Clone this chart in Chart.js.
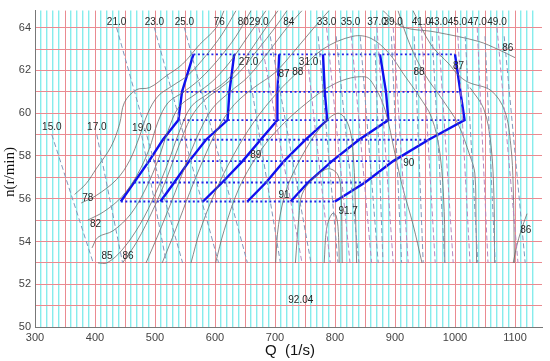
<!DOCTYPE html>
<html>
<head>
<meta charset="utf-8">
<script src="https://cdn.jsdelivr.net/npm/chart.js@4.4.0/dist/chart.umd.min.js"></script>
<style>
html, body { margin: 0; padding: 0; background: #fff; }
</style>
</head>
<body>
<canvas id="hillChart" width="550" height="361"></canvas>
<script>
// operating points: speed levels n (r/min) and flow Q (l/s) of each blue line
var levels = [55.87, 56.76, 57.76, 58.76, 59.68, 61.0, 62.75];
var blue1 = [443, 465, 490, 513, 539, 545, 564];
var blue2 = [509, 532, 557, 585, 621, 624, 632];
var blue3 = [580, 612, 646, 676, 704, 704, 707];
var blue4 = [654, 685, 715, 751, 787, 783, 780];
var blue5 = [726, 755, 795, 840, 889, 885, 875];
var blue6 = [800, 850, 897, 956, 1016, 1009, 1000];

// blade angle lines (dashed): label, top point, bottom Q at n = 53
var floorN = 53;
var angleNames = ['15.0', '17.0', '19.0', '21.0', '23.0', '25.0', '27.0', '29.0', '31.0', '33.0', '35.0', '37.0', '39.0', '41.0', '43.0', '45.0', '47.0', '49.0'];
var angleTopQ = [328, 403, 478, 436, 499, 549, 656, 673, 756, 786, 826, 870, 897, 944, 972, 1004, 1037, 1070];
var angleTopN = [59.0, 59.0, 58.95, 64.0, 64.0, 64.0, 62.05, 64.0, 62.05, 64.0, 64.0, 64.0, 64.0, 64.0, 64.0, 64.0, 64.0, 64.0];
var angleBottomQ = [397, 446, 519, 546, 606, 654, 709, 745, 792, 825, 861, 897, 922, 967, 997, 1025, 1055, 1105];
// second dashed family running beside the labelled lines
var guideTopQ = [692, 772, 802, 842, 866, 894, 932, 962, 1017, 1050, 1082];
var guideTopN = 63.6;
var guideBottomQ = [760, 805, 840, 872, 880, 911, 947, 983, 1038, 1067, 1117];

// efficiency contours (Q, n)
var c76 = [[366,56.2],[385,56.7],[402,57.4],[427,58.45],[441,59.5],[449,60.5],[469,61.1],[491,61.2],[519,61.75],[546,62.3],[574,63.2],[602,64.0],[615,64.8]];
var c78 = [[377,55.8],[402,56.15],[436,56.9],[458,57.8],[474,58.9],[488,60.0],[505,60.8],[530,61.3],[556,61.8],[585,62.7],[612,63.7],[635,64.8]];
var c80 = [[388,55.0],[415,55.4],[445,56.1],[470,57.1],[490,58.3],[505,59.6],[522,60.5],[548,61.0],[575,61.6],[605,62.5],[635,63.6],[660,64.8]];
var c82 = [[395,53.7],[405,54.2],[430,54.5],[460,55.3],[485,56.5],[505,57.8],[522,59.2],[540,60.3],[568,60.9],[596,61.5],[625,62.4],[655,63.6],[685,64.8]];
var c84 = [[405,53.0],[420,53.0],[445,53.6],[475,54.8],[500,56.2],[522,57.7],[540,59.1],[560,60.3],[588,60.9],[618,61.5],[648,62.5],[680,63.8],[705,64.8]];
var c85 = [[446,53.0],[470,54.0],[497,55.5],[520,57.0],[540,58.5],[560,59.8],[582,60.6],[610,61.2],[640,61.9],[672,63.0],[700,64.0],[720,64.8]];
var c86 = [[485,53.0],[505,54.3],[528,55.9],[550,57.5],[572,59.0],[595,60.2],[625,61.0],[655,61.7],[690,62.9],[720,64.0],[745,64.8]];
var c87 = [[512,53.0],[535,54.6],[558,56.3],[580,57.8],[605,59.3],[632,60.4],[665,61.2],[700,61.9],[735,63.0],[765,64.0],[790,64.8]];
var c88 = [[560,53],[575,54.5],[600,56.3],[630,58],[665,59.6],[705,61.0],[737,61.9],[780,63.0],[830,63.6],[860,63.5],[890,62.8],[915,61.8],[940,60.8],[961,59.8],[975,58.1],[982,55.4],[983,53]];
var c89 = [[601,53],[615,54.5],[640,56.5],[670,58.0],[700,59.1],[745,60.3],[801,61.4],[850,61.7],[867,61.2],[884,60.1],[900,58.1],[913,56.5],[930,54.8],[945,53]];
var c90 = [[701,53],[706,54.8],[720,56.5],[745,58],[775,59.3],[805,60],[823,59.4],[831,57.8],[834,55.5],[836,53]];
var c91 = [[734,53],[740,55.2],[745,56.2],[762,56.9],[784,57.37],[795,57.37],[805,57.1],[810,56.4],[812,53]];
var c917 = [[782,53],[786,54.6],[795,55.3],[802,55.2],[806,54.2],[807,53]];
var r87 = [[930,64.8],[960,63.2],[990,62.3],[1005,61.8],[1022,61.45],[1060,61.06],[1083,60.1],[1093,58.5],[1097,56.6],[1099,53]];
var r86 = [[880,64.8],[911,64.06],[967,63.8],[1039,63.36],[1072,62.98],[1100,62.6]];
var r86b = [[1097,53],[1103,53.8],[1110,54.5],[1120,55.3]];
var rA = [[905,64.8],[925,63.2],[950,61.8],[980,60.6],[1005,59.5],[1025,58],[1033,57.2],[1035,55],[1036,53]];
var rB = [[1025,61.2],[1048,60.2],[1060,58.5],[1065,56],[1066,53]];

// free text on the chart (label, Q, n)
var noteText = ['76', '80', '84', '86', '87', '88', '88', '87', '89', '90', '78', '82', '85', '86', '91', '91.7', '86', '92.04'];
var noteQ = [607, 647, 723, 1088, 715, 738, 940, 1006, 668, 923, 388, 401, 420, 455, 715, 822, 1118, 743];
var noteN = [64.27, 64.27, 64.27, 63.06, 61.83, 61.9, 61.9, 62.2, 58.05, 57.68, 56.04, 54.79, 53.3, 53.3, 56.18, 55.41, 54.53, 51.26];

var datasets = [];

function pts(list) {
    return list.map(function(p) { return {x: p[0], y: p[1]}; });
}

function dashLine(q0, n0, q1, color) {
    return {
        data: [{x: q0, y: n0}, {x: q1, y: floorN}],
        showLine: true,
        borderColor: color,
        borderWidth: 1,
        borderDash: [5, 3],
        pointRadius: 0,
        tension: 0
    };
}

// dashed angle lines
for (var i = 0; i < angleNames.length; i++) {
    datasets.push(dashLine(angleTopQ[i], angleTopN[i], angleBottomQ[i], i < 7 ? '#7f97bb' : '#b487c0'));
}
for (var g = 0; g < guideTopQ.length; g++) {
    datasets.push(dashLine(guideTopQ[g], guideTopN, guideBottomQ[g], '#7f97bb'));
}

// gray contours
[c76, c78, c80, c82, c84, c85, c86, c87, c88, c89, c90, c91, c917, r87, r86, r86b, rA, rB].forEach(function(c) {
    datasets.push({
        data: pts(c),
        showLine: true,
        borderColor: '#6b6b6b',
        borderWidth: 0.8,
        pointRadius: 0,
        tension: 0.35
    });
});

// dotted speed levels between first and last blue line
for (var k = 0; k < levels.length; k++) {
    datasets.push({
        data: [{x: blue1[k], y: levels[k]}, {x: blue6[k], y: levels[k]}],
        showLine: true,
        borderColor: '#2323e6',
        borderWidth: 1.8,
        borderDash: [2, 2.5],
        pointRadius: 0,
        tension: 0
    });
}

// blue lines
[blue1, blue2, blue3, blue4, blue5, blue6].forEach(function(b) {
    datasets.push({
        data: b.map(function(q, j) { return {x: q, y: levels[j]}; }),
        showLine: true,
        borderColor: '#1010ee',
        borderWidth: 2.4,
        pointRadius: 0,
        tension: 0
    });
});

var textPlugin = {
    id: 'hillText',
    afterDatasetsDraw: function(chart) {
        var ctx = chart.ctx;
        var xs = chart.scales.x, ys = chart.scales.y;
        ctx.save();
        ctx.fillStyle = '#262626';
        ctx.font = '10px "Liberation Sans", Arial, sans-serif';
        ctx.textAlign = 'center';
        ctx.textBaseline = 'middle';
        // angle labels above the dashed lines
        for (var i = 0; i < angleNames.length; i++) {
            var yy = angleTopN[i] > 63 ? 64.27 : angleTopN[i] + 0.35;
            ctx.fillText(angleNames[i], xs.getPixelForValue(angleTopQ[i]), ys.getPixelForValue(yy));
        }
        for (var j = 0; j < noteText.length; j++) {
            ctx.fillText(noteText[j], xs.getPixelForValue(noteQ[j]), ys.getPixelForValue(noteN[j]));
        }
        // axis titles
        ctx.fillStyle = '#111';
        ctx.font = '15px "Liberation Sans", Arial, sans-serif';
        ctx.fillText('Q  (1/s)', 290, 351);
        ctx.translate(10, 172);
        ctx.rotate(-Math.PI / 2);
        ctx.font = '15px "Liberation Serif", "Times New Roman", serif';
        ctx.fillText('n(r/min)', 0, 0);
        ctx.restore();
    }
};

new Chart(document.getElementById('hillChart'), {
    type: 'scatter',
    data: { datasets: datasets },
    options: {
        responsive: false,
        animation: false,
        layout: { padding: { top: 5, right: 8, left: 0, bottom: 0 } },
        plugins: { legend: { display: false }, tooltip: { enabled: false } },
        scales: {
            x: {
                type: 'linear',
                min: 300,
                max: 1145,
                afterFit: function(s) { s.height = 34; },
                border: { color: '#777', width: 1 },
                grid: {
                    drawTicks: false,
                    lineWidth: function(c) { return c.tick.value % 50 === 0 ? 1 : 1.4; },
                    color: function(c) {
                        var v = c.tick.value;
                        if (v % 10 !== 0) return 'rgba(0,0,0,0)';
                        return v % 50 === 0 ? '#ea8a90' : '#86ecec';
                    }
                },
                ticks: {
                    stepSize: 10,
                    autoSkip: false,
                    maxRotation: 0,
                    padding: 4,
                    color: '#444',
                    font: { size: 11, family: '"Liberation Sans", Arial' },
                    callback: function(v) { return v % 100 === 0 ? v : ''; }
                }
            },
            y: {
                type: 'linear',
                min: 50,
                max: 64.8,
                afterFit: function(s) { s.width = 35; },
                border: { color: '#777', width: 1 },
                grid: {
                    drawTicks: false,
                    color: function(c) {
                        return Number.isInteger(c.tick.value) ? '#ea8a90' : 'rgba(0,0,0,0)';
                    }
                },
                ticks: {
                    stepSize: 1,
                    autoSkip: false,
                    padding: 4,
                    color: '#444',
                    font: { size: 11, family: '"Liberation Sans", Arial' },
                    callback: function(v) { return v % 2 === 0 ? v : ''; }
                }
            }
        }
    },
    plugins: [textPlugin]
});
</script>
</body>
</html>
